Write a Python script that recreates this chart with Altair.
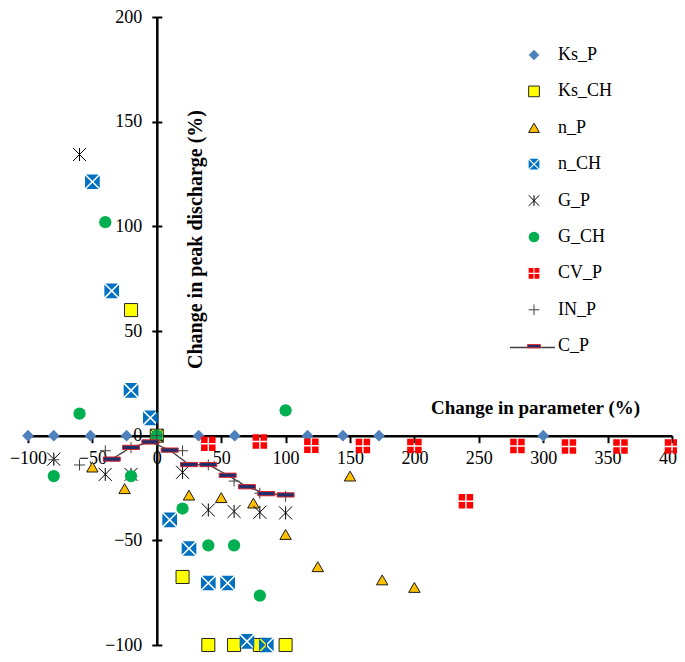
import altair as alt
import pandas as pd

series_order = ["Ks_P", "Ks_CH", "n_P", "n_CH", "G_P", "G_CH", "CV_P", "IN_P", "C_P"]

ks_p_x = [-100, -80, -51.5, -23.5, 32.5, 60.5, 117, 144.5, 172.5, 300]
ks_p_y = [0, 0, 0, 0, 0, 0, 0, 0, 0, 0]

ks_ch_x = [-20, 0, 20, 40, 60, 80, 100]
ks_ch_y = [60, 0, -67.5, -100, -100, -100, -100]

n_p_x = [-50, -25, 0, 25, 50, 75, 100, 125, 150, 175, 200]
n_p_y = [-15, -25.3, 0, -28.4, -29.6, -32.2, -47.2, -62.6, -19.3, -68.9, -72.5]

n_ch_x = [-50, -35, -20, -5, 10, 25, 40, 55, 70, 85]
n_ch_y = [121.3, 69.2, 21.6, 8.5, -40.2, -53.9, -70.4, -70.4, -98.3, -100]

g_p_x = [-80, -60, -40, -20, 0, 20, 40, 60, 80, 100]
g_p_y = [-11.2, 134.3, -18.5, -18.5, 0, -17.5, -35.5, -36.2, -36.6, -36.9]

g_ch_x = [-80, -60, -40, -20, 0, 20, 40, 60, 80, 100]
g_ch_y = [-19.3, 10.5, 102, -19.3, 0, -34.8, -52.4, -52.4, -76.4, 12.1]

cv_p_x = [40, 80, 120, 160, 200, 240, 280, 320, 360, 400]
cv_p_y = [-3.9, -2.8, -4.8, -4.9, -4.9, -31.3, -4.9, -5.2, -5.2, -5.2]

in_p_x = [-80, -60, -40, -20, 0, 20, 40, 60, 80, 100]
in_p_y = [-11.5, -14.0, -7.2, -5.7, 0, -7.2, -14.0, -21.7, -27.5, -29.0]

c_p_x = [-35, -20, -5, 10, 25, 40, 55, 70, 85, 100]
c_p_y = [-11.2, -5.6, -3.0, -6.9, -13.8, -13.8, -18.9, -24.4, -27.7, -28.3]

x_ticks = [-100, -50, 0, 50, 100, 150, 200, 250, 300, 350, 400]
y_ticks = [-100, -50, 0, 50, 100, 150, 200]

series_data = {
    "Ks_P": (ks_p_x, ks_p_y),
    "Ks_CH": (ks_ch_x, ks_ch_y),
    "n_P": (n_p_x, n_p_y),
    "n_CH": (n_ch_x, n_ch_y),
    "G_P": (g_p_x, g_p_y),
    "G_CH": (g_ch_x, g_ch_y),
    "CV_P": (cv_p_x, cv_p_y),
    "IN_P": (in_p_x, in_p_y),
    "C_P": (c_p_x, c_p_y),
}

# marker shapes
k = 0.15
XCUT = (f"M0,{-k}L{1-k},-1L{-(1-k)},-1Z"
        f"M0,{k}L{1-k},1L{-(1-k)},1Z"
        f"M{-k},0L-1,{1-k}L-1,{-(1-k)}Z"
        f"M{k},0L1,{1-k}L1,{-(1-k)}Z")
p = 0.1
PLUSCUT = (f"M{p},{p}L1,{p}L1,1L{p},1Z"
           f"M{-p},{p}L-1,{p}L-1,1L{-p},1Z"
           f"M{-p},{-p}L-1,{-p}L-1,-1L{-p},-1Z"
           f"M{p},{-p}L1,{-p}L1,-1L{p},-1Z")
ASTER = "M-1,-1L1,1M-1,1L1,-1M0,-1L0,1"
PLUS = "M-1,0L1,0M0,-1L0,1"
DASH = "M-1.2,-0.3L1.2,-0.3L1.2,0.3L-1.2,0.3Z"

shapes = ["diamond", "square", "triangle-up", XCUT, ASTER, "circle", PLUSCUT, PLUS, DASH]
fills = ["#4F81BD", "#FFFF00", "#FFC000", "#0070C0", "transparent", "#00B050",
         "#FF0000", "transparent", "#1F2F6B"]
strokes = ["transparent", "#262626", "#1A1A1A", "transparent", "#000000", "transparent",
           "transparent", "#404040", "#D9262B"]
sizes = [140, 170, 130, 215, 170, 150, 210, 120, 200]
size_of = dict(zip(series_order, sizes))

rows = []
for s in series_order:
    xs, ys = series_data[s]
    for xv, yv in zip(xs, ys):
        rows.append({"series": s, "x": xv, "y": yv, "sz": size_of[s]})
df = pd.DataFrame(rows)
df_line = pd.DataFrame({"x": c_p_x, "y": c_p_y, "lname": ["C_P"] * len(c_p_x)})

W, H = 644, 628
PAD_T, PAD_B = 9, 9
FONT = "Liberation Serif"

xscale = alt.Scale(domain=[-100, 400], nice=False, zero=False)
yscale = alt.Scale(domain=[-100, 200], nice=False, zero=False)

xaxis = alt.Axis(
    values=x_ticks, orient="bottom", offset=-H / 3, grid=False,
    domainColor="black", domainWidth=2.5, tickColor="black", tickWidth=2, tickSize=7,
    labelPadding=7, labelFontSize=18, labelColor="black", labelFont=FONT,
    title="Change in parameter (%)", titleFont=FONT, titleFontSize=19, titleFontWeight="bold",
    titleColor="black", titleX=507, titleY=-28, titleAlign="center", titleBaseline="middle",
    labelOverlap=False, labelFlush=False,
)
yaxis_left = alt.Axis(
    values=y_ticks, orient="left", offset=-W / 5, grid=False,
    domainColor="black", domainWidth=2.5, tickColor="black", tickWidth=2, tickSize=5,
    labelPadding=10, labelFontSize=18, labelColor="black", labelFont=FONT,
    title="Change in peak discharge (%)", titleFont=FONT, titleFontSize=20,
    titleFontWeight="bold", titleColor="black", titleAngle=270, titleX=39, titleY=222,
    titleAlign="center", titleBaseline="middle", labelOverlap=False, labelFlush=False,
)
yaxis_right = alt.Axis(
    values=y_ticks, orient="right", offset=-W * 4 / 5, grid=False, domain=False,
    tickColor="black", tickWidth=2, tickSize=5, labels=False, title=None,
)

legend_pts = alt.Legend(
    title=None, orient="none", legendX=497, legendY=29, direction="vertical",
    labelFont=FONT, labelFontSize=18, labelColor="black", symbolSize=115,
    symbolStrokeWidth=1, rowPadding=18.4, labelOffset=15, padding=0,
)

points = alt.Chart(df).mark_point(filled=True, opacity=1, strokeWidth=1).encode(
    x=alt.X("x:Q", scale=xscale, axis=xaxis),
    y=alt.Y("y:Q", scale=yscale, axis=yaxis_left),
    shape=alt.Shape("series:N", scale=alt.Scale(domain=series_order, range=shapes),
                    legend=legend_pts, sort=series_order),
    fill=alt.Fill("series:N", scale=alt.Scale(domain=series_order, range=fills),
                  legend=legend_pts, sort=series_order),
    stroke=alt.Stroke("series:N", scale=alt.Scale(domain=series_order, range=strokes),
                      legend=legend_pts, sort=series_order),
    size=alt.Size("sz:Q", scale=None),
)

line = alt.Chart(df_line).mark_line(color="#404040", strokeWidth=1.3).encode(
    x=alt.X("x:Q", scale=xscale, axis=xaxis),
    y=alt.Y("y:Q", scale=yscale, axis=yaxis_right),
    strokeDash=alt.StrokeDash(
        "lname:N", scale=alt.Scale(domain=["C_P"], range=[[1, 0]]),
        legend=alt.Legend(
            title=None, orient="none", legendX=481, legendY=307, symbolType="stroke",
            symbolSize=2025, symbolStrokeWidth=1.5, symbolStrokeColor="#404040",
            labelExpr="' '", labelFontSize=18, padding=0, labelOffset=2,
        ),
    ),
)

chart = (
    alt.layer(line, points)
    .resolve_axis(y="independent")
    .properties(
        width=W, height=H,
        padding={"left": 20, "top": PAD_T, "right": 5, "bottom": PAD_B},
        autosize=alt.AutoSizeParams(type="none"),
    )
    .configure_view(stroke=None)
)

chart.save("out.html", embed_options={"renderer": "svg", "actions": False})
